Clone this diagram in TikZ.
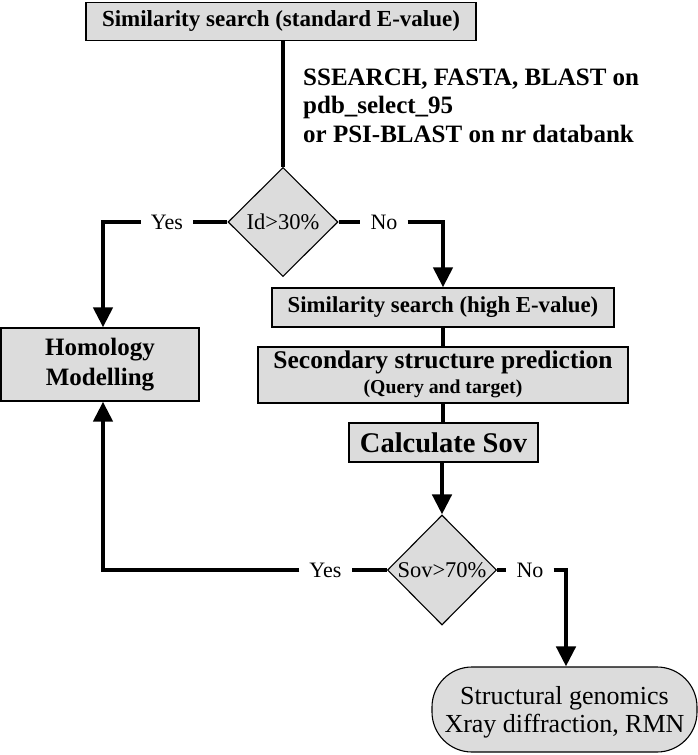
\documentclass[tikz,border=0pt]{standalone}
\usepackage{fontspec}
\setmainfont{Liberation Serif}
\usetikzlibrary{arrows.meta,shapes.geometric}
\definecolor{boxfill}{HTML}{DCDCDC}
\begin{document}
\begin{tikzpicture}[x=1pt,y=-1pt,
  box/.style={draw,line width=1.3pt,fill=boxfill,inner sep=0pt,font=\bfseries},
  dia/.style={draw,line width=1.1pt,fill=boxfill,shape=diamond,inner sep=0pt,font=\fontsize{22.5}{24}\selectfont},
  conn/.style={line width=4.5pt},
  arr/.style={line width=4.5pt,-{Triangle[length=20pt,width=19pt]}},
  lbl/.style={inner ysep=0pt,inner xsep=10pt,font=\fontsize{22}{24}\selectfont}]
\useasboundingbox (0,0) rectangle (698,755);
% nodes
\node[box,minimum width=390pt,minimum height=38pt,font=\bfseries\fontsize{23}{26}\selectfont] (top) at (281,21.5) {Similarity search (standard E-value)};
\node[anchor=north west,align=left,inner sep=0pt,font=\bfseries\fontsize{25}{28.5}\selectfont] (info) at (303,68.5) {SSEARCH, FASTA, BLAST on\\pdb\_select\_95\\or PSI-BLAST on nr databank};
\node[dia,minimum width=110pt,minimum height=109pt] (d1) at (283,222) {Id>30\%};
\node[lbl] (y1) at (167,222) {Yes};
\node[lbl] (n1) at (384,222) {No};
\coordinate (c1) at (103,222);
\coordinate (c2) at (443,222);
\node[box,minimum width=198pt,minimum height=73pt,align=center,font=\bfseries\fontsize{25}{30}\selectfont] (hom) at (100,364.5) {Homology\\Modelling};
\node[box,minimum width=342pt,minimum height=39pt,font=\bfseries\fontsize{22.8}{26}\selectfont] (sim2) at (443,307.5) {Similarity search (high E-value)};
\node[box,minimum width=370pt,minimum height=56pt] (sec) at (443,375) {};
\node[anchor=base,inner sep=0pt,font=\bfseries\fontsize{25.5}{28}\selectfont] (secA) at (443,368) {Secondary structure prediction};
\node[anchor=base,inner sep=0pt,font=\bfseries\fontsize{19.7}{22}\selectfont] (secB) at (443,393) {(Query and target)};
\node[box,minimum width=189pt,minimum height=39pt,font=\bfseries\fontsize{28.5}{30}\selectfont] (calc) at (443.5,442.5) {Calculate Sov};
\node[dia,minimum width=109pt,minimum height=110pt] (d2) at (442,570) {Sov>70\%};
\node[lbl] (y2) at (325.5,570) {Yes};
\node[lbl] (n2) at (530,570) {No};
\coordinate (c3) at (103,570);
\coordinate (c4) at (566,570);
\node[draw,line width=1.1pt,fill=boxfill,rounded corners=40pt,minimum width=265pt,minimum height=85pt,inner sep=0pt] (sg) at (564.5,709.5) {};
\node[align=center,inner sep=0pt,font=\fontsize{26}{28}\selectfont] (sgt) at (564.5,712) {Structural genomics\\Xray diffraction, RMN};
% connectors
\draw[conn] (top.south -| d1.north) -- (d1.north);
\draw[conn] (d1.west) -- (y1.east |- d1.west);
\draw[arr] (y1.west |- d1.west) -- (c1) -- (hom.north -| c1);
\draw[conn] (d1.east) -- (n1.west |- d1.east);
\draw[arr] (n1.east |- d1.east) -- (c2) -- (sim2.north -| c2);
\draw[conn] (sim2.south -| c2) -- (sec.north -| c2);
\draw[conn] (sec.south -| c2) -- (calc.north -| c2);
\draw[arr] (calc.south -| d2.north) -- (d2.north);
\draw[conn] (d2.west) -- (y2.east |- d2.west);
\draw[arr] (y2.west |- d2.west) -- (c3) -- (hom.south -| c3);
\draw[conn] (d2.east) -- (n2.west |- d2.east);
\draw[arr] (n2.east |- d2.east) -- (c4) -- (sg.north -| c4);
\end{tikzpicture}
\end{document}
